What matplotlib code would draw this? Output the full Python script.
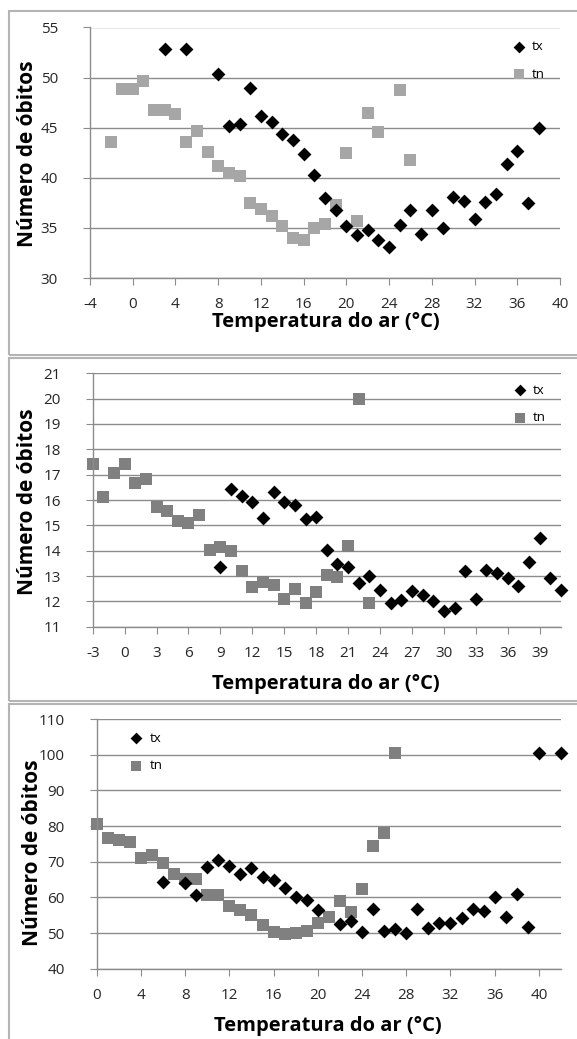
import matplotlib.pyplot as plt
from matplotlib.patches import Rectangle
import numpy as np

plt.rcParams['font.family'] = ['Open Sans', 'DejaVu Sans']
plt.rcParams['axes.unicode_minus'] = False

# Painel 1
p1_tx_x = [3, 5, 8, 9, 10, 11, 12, 13, 14, 15, 16, 17, 18, 19, 20, 21, 22, 23, 24, 25,
           26, 27, 28, 29, 30, 31, 32, 33, 34, 35, 36, 37, 38]
p1_tx_y = [52.9, 52.9, 50.4, 45.2, 45.4, 49.0, 46.2, 45.6, 44.4, 43.8, 42.4, 40.3, 38.0, 36.8, 35.2, 34.3, 34.8, 33.8, 33.1, 35.3,
           36.8, 34.4, 36.8, 35.0, 38.1, 37.7, 35.9, 37.6, 38.4, 41.4, 42.7, 37.5, 45.0]
p1_tn_x = [-2, -1, 0, 1, 2, 3, 4, 5, 6, 7, 8, 9, 10, 11, 12, 13, 14, 15, 16, 17,
           18, 19, 20, 21, 22, 23, 25, 26]
p1_tn_y = [43.6, 48.9, 48.9, 49.7, 46.8, 46.8, 46.4, 43.6, 44.7, 42.6, 41.2, 40.5, 40.2, 37.5, 36.9, 36.2, 35.2, 34.0, 33.8, 35.0,
           35.4, 37.3, 42.5, 35.7, 46.5, 44.6, 48.8, 41.8]

# Painel 2
p2_tx_x = [9, 10, 11, 12, 13, 14, 15, 16, 17, 18, 19, 20, 21, 22, 23, 24, 25, 26, 27, 28,
           29, 30, 31, 32, 33, 34, 35, 36, 37, 38, 39, 40, 41]
p2_tx_y = [13.35, 16.45, 16.17, 15.92, 15.27, 16.3, 15.93, 15.81, 15.25, 15.33, 14.03, 13.48, 13.37, 12.72, 13.0, 12.45, 11.92, 12.05, 12.4, 12.27,
           12.0, 11.6, 11.72, 13.2, 12.1, 13.25, 13.13, 12.93, 12.62, 13.56, 14.5, 12.93, 12.45]
p2_tn_x = [-3, -2, -1, 0, 1, 2, 3, 4, 5, 6, 7, 8, 9, 10, 11, 12, 13, 14, 15, 16,
           17, 18, 19, 20, 21, 22, 23]
p2_tn_y = [17.43, 16.12, 17.05, 17.43, 16.68, 16.83, 15.71, 15.56, 15.17, 15.08, 15.41, 14.02, 14.15, 13.97, 13.2, 12.58, 12.75, 12.64, 12.08, 12.47,
           11.94, 12.35, 13.05, 12.96, 14.18, 19.97, 11.94]

# Painel 3
p3_tx_x = [6, 8, 9, 10, 11, 12, 13, 14, 15, 16, 17, 18, 19, 20, 22, 23, 24, 25, 26, 27,
           28, 29, 30, 31, 32, 33, 34, 35, 36, 37, 38, 39, 40, 42]
p3_tx_y = [64.4, 64.1, 60.6, 68.6, 70.4, 68.8, 66.6, 68.2, 65.7, 64.9, 62.7, 60.0, 59.3, 56.5, 52.6, 53.3, 50.2, 56.6, 50.7, 51.2,
           49.9, 56.6, 51.5, 52.7, 52.7, 54.3, 56.6, 56.3, 60.0, 54.6, 60.9, 51.6, 100.6, 100.6]
p3_tn_x = [0, 1, 2, 3, 4, 5, 6, 7, 8, 9, 10, 11, 12, 13, 14, 15, 16, 17, 18, 19,
           20, 21, 22, 23, 24, 25, 26, 27]
p3_tn_y = [80.7, 76.6, 76.0, 75.6, 71.0, 72.0, 69.6, 66.6, 65.2, 65.2, 60.6, 60.6, 57.6, 56.4, 55.0, 52.3, 50.2, 49.6, 49.9, 50.6,
           52.9, 54.6, 59.0, 56.0, 62.4, 74.4, 78.0, 100.6]

xlabel = 'Temperatura do ar (°C)'
ylabel = 'Número de óbitos'

grade = '#8c8c8c'

fig = plt.figure(figsize=(5.77, 10.39), dpi=100)

# caixas dos paineis (pixels: x0, y0 topo, x1, y1 base)
for x0, y0, x1, y1 in [(9, 11, 600, 355), (9, 358, 600, 701), (9, 704, 600, 1060)]:
    fig.patches.append(Rectangle((x0 / 577, 1 - y1 / 1039), (x1 - x0) / 577, (y1 - y0) / 1039,
                                 transform=fig.transFigure, fill=False, edgecolor='#b4b4b4', lw=1.5))


def painel(pos, tx_x, tx_y, tn_x, tn_y, cor_tn, xlim, xticks, ylim, yticks, leg_loc, leg_anchor,
           ylab_xy, xlab_xy):
    ax = fig.add_axes(pos)
    ax.scatter(tx_x, tx_y, marker='D', s=50, color='black', zorder=3, label='tx',
               linewidths=0, clip_on=False)
    ax.scatter(tn_x, tn_y, marker='s', s=64, color=cor_tn, zorder=2, label='tn',
               linewidths=0, clip_on=False)
    ax.set_xlim(xlim)
    ax.set_ylim(ylim)
    ax.set_xticks(xticks)
    ax.set_yticks(yticks)
    ax.yaxis.grid(True, color=grade, lw=1)
    ax.set_axisbelow(True)
    for s in ['top', 'right']:
        ax.spines[s].set_visible(False)
    for s in ['left', 'bottom']:
        ax.spines[s].set_color(grade)
        ax.spines[s].set_linewidth(1)
    ax.tick_params(axis='both', direction='out', length=5, color=grade, labelsize=11,
                   labelcolor='#262626')
    ax.tick_params(axis='y', pad=18)
    ax.tick_params(axis='x', pad=9)
    ax.legend(loc=leg_loc, bbox_to_anchor=leg_anchor, frameon=False, fontsize=9.5,
              handletextpad=0.0, labelspacing=1.1, borderaxespad=0.2, markerscale=0.85)
    fig.text(ylab_xy[0] / 577, 1 - ylab_xy[1] / 1039, ylabel, rotation=90, fontsize=15,
             fontweight='bold', ha='center', va='center')
    fig.text(xlab_xy[0] / 577, 1 - xlab_xy[1] / 1039, xlabel, fontsize=14.5,
             fontweight='bold', ha='center', va='center')
    return ax


painel([90 / 577, 1 - 278 / 1039, 470 / 577, 250.5 / 1039], p1_tx_x, p1_tx_y, p1_tn_x, p1_tn_y,
       '#a6a6a6', (-4, 40), np.arange(-4, 41, 4), (30, 55), np.arange(30, 56, 5),
       'upper right', (0.985, 0.98), (28, 154), (326, 322))

painel([92.7 / 577, 1 - 626.7 / 1039, 468.3 / 577, 253.4 / 1039], p2_tx_x, p2_tx_y, p2_tn_x, p2_tn_y,
       '#808080', (-3, 41), np.arange(-3, 40, 3), (11, 21), np.arange(11, 22, 1),
       'upper right', (0.985, 0.99), (28, 502), (326, 684))

painel([96.7 / 577, 1 - 968.7 / 1039, 464.3 / 577, 249.7 / 1039], p3_tx_x, p3_tx_y, p3_tn_x, p3_tn_y,
       '#808080', (0, 42), np.arange(0, 41, 4), (40, 110), np.arange(40, 111, 10),
       'upper left', (0.04, 0.98), (33, 853), (328, 1026))

plt.savefig('out.png', dpi=100)
